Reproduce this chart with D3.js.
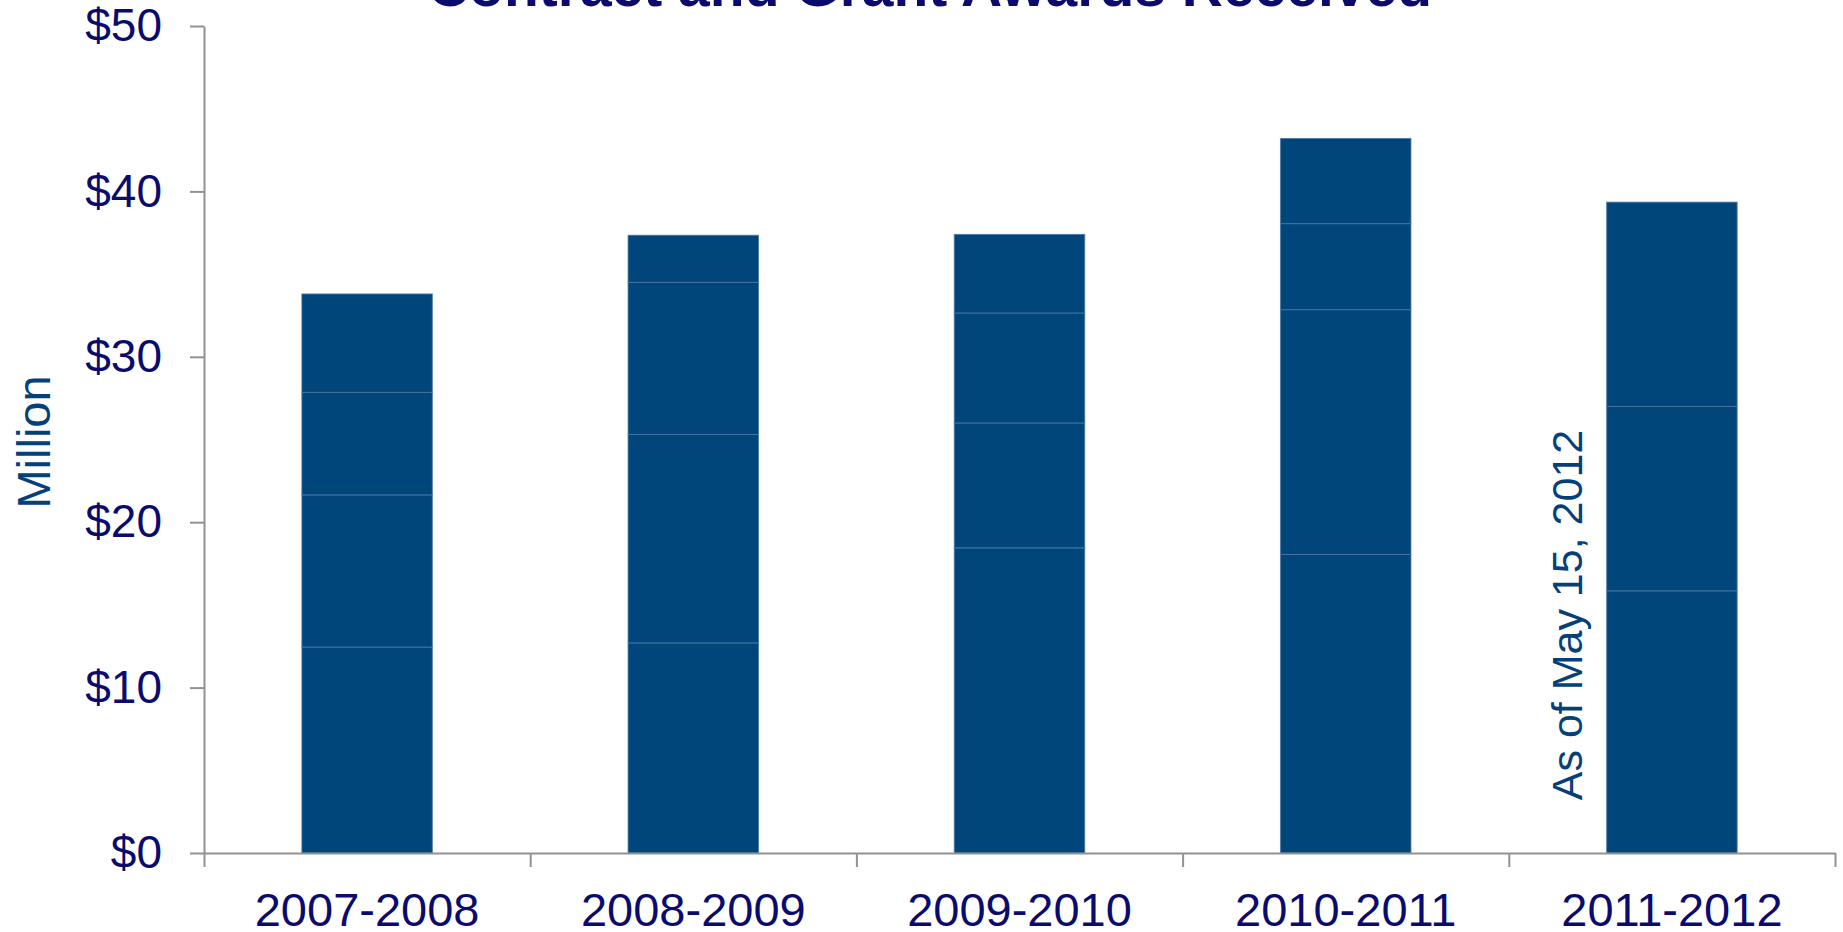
<!DOCTYPE html>
<html>
<head>
<meta charset="utf-8">
<script src="https://cdn.jsdelivr.net/npm/d3@7"></script>
<style>
  body { margin: 0; background: #fff; }
  text { font-family: "Liberation Sans", Arial, sans-serif; }
</style>
</head>
<body>
<div id="chart"></div>
<script>
// values in $ million, bottom segment first
let categories = ["2007-2008", "2008-2009", "2009-2010", "2010-2011", "2011-2012"]
let segment_1 = [12.45, 12.7, 18.45, 18.05, 15.85]
let segment_2 = [9.2, 12.6, 7.55, 14.8, 11.15]
let segment_3 = [6.2, 9.2, 6.65, 5.2, 12.35]
let segment_4 = [5.95, 2.85, 4.75, 5.15, 0]
let y_ticks = [0, 10, 20, 30, 40, 50]

let title = "Contract and Grant Awards Received"
let y_title = "Million"
let note = "As of May 15, 2012"

let width = 1843,
    height = 932,
    plot_left = 204,
    plot_right = 1835,
    plot_top = 26,
    plot_bottom = 853

let navy = "#0b0b6e",
    blue = "#064079",
    bar_fill = "#01467b",
    bar_line = "#4a77a5",
    axis_color = "#929292"

let keys = ["s1", "s2", "s3", "s4"]
let rows = categories.map(function(c, i) {
  return { cat: c, s1: segment_1[i], s2: segment_2[i], s3: segment_3[i], s4: segment_4[i] }
})
let series = d3.stack().keys(keys)(rows)

let x = d3.scaleBand()
    .domain(categories)
    .range([plot_left, plot_right])
    .paddingInner(0.6)
    .paddingOuter(0.3)

let x_edges = d3.scaleLinear()
    .domain([0, categories.length])
    .range([plot_left, plot_right])

let y = d3.scaleLinear()
    .domain([0, 50])
    .range([plot_bottom, plot_top])

let svg = d3.select("#chart").append("svg")
    .attr("width", width)
    .attr("height", height)

// bars
svg.append("g")
  .selectAll("g")
  .data(series).enter()
    .append("g")
  .selectAll("rect")
  .data(function(d) { return d }).enter()
    .append("rect")
      .attr("x", function(d) { return x(d.data.cat) })
      .attr("width", x.bandwidth())
      .attr("y", function(d) { return y(d[1]) })
      .attr("height", function(d) { return y(d[0]) - y(d[1]) })
      .style("fill", bar_fill)
      .style("stroke", bar_line)
      .style("stroke-width", 1)
      .style("stroke-opacity", 0.8)

// y axis
let y_axis = svg.append("g")
    .attr("transform", "translate(" + plot_left + ",0)")
    .call(d3.axisLeft(y)
      .tickValues(y_ticks)
      .tickFormat(function(d) { return "$" + d })
      .tickSize(14)
      .tickSizeOuter(0)
      .tickPadding(28))
y_axis.selectAll("text")
    .style("font-size", "46px")
    .style("fill", navy)

// x axis: ticks at category edges, labels at centres
let x_axis = svg.append("g")
    .attr("transform", "translate(0," + plot_bottom + ")")
    .call(d3.axisBottom(x_edges)
      .tickValues(d3.range(categories.length + 1))
      .tickFormat("")
      .tickSize(14)
      .tickSizeOuter(0))

let x_labels = svg.append("g")
    .attr("transform", "translate(0," + plot_bottom + ")")
    .call(d3.axisBottom(x)
      .tickSize(0)
      .tickPadding(40))
x_labels.select(".domain").remove()
x_labels.selectAll("text")
    .style("font-size", "47px")
    .style("fill", navy)

svg.selectAll(".domain, .tick line")
    .style("stroke", axis_color)
    .style("stroke-width", 2)

// titles
svg.append("text")
    .attr("x", 930)
    .attr("y", 6)
    .attr("text-anchor", "middle")
    .style("font-size", "57px")
    .style("font-weight", "bold")
    .style("fill", navy)
    .text(title)

svg.append("text")
    .attr("transform", "translate(50,442) rotate(-90)")
    .attr("text-anchor", "middle")
    .style("font-size", "47px")
    .style("fill", blue)
    .text(y_title)

svg.append("text")
    .attr("transform", "translate(1582,615) rotate(-90)")
    .attr("text-anchor", "middle")
    .style("font-size", "43px")
    .style("fill", blue)
    .text(note)
</script>
</body>
</html>
